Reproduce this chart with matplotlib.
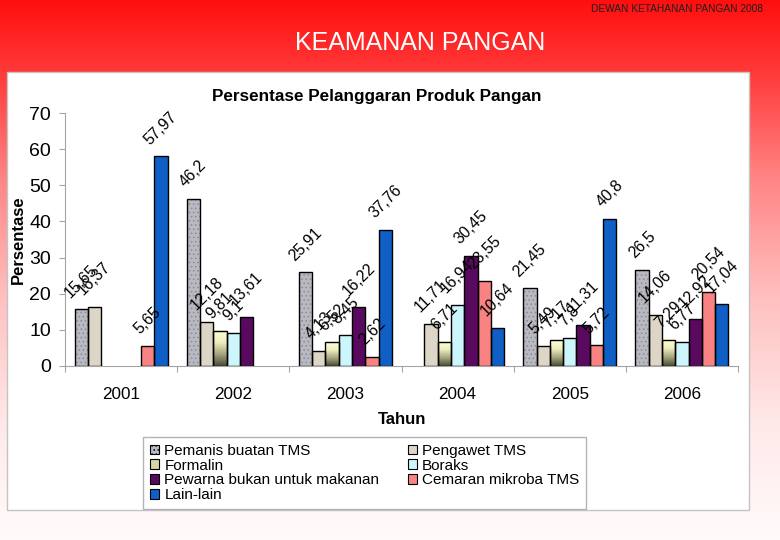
"""
Slide 'KEAMANAN PANGAN': grouped bars of the share of food product violations
per year (2001-2006), each bar carrying its value as a rotated label.
"""

import numpy as np
import matplotlib
matplotlib.use("Agg")
import matplotlib.pyplot as plt
from matplotlib.patches import Rectangle, Patch
from matplotlib.colors import LinearSegmentedColormap

nan = np.nan

years = ["2001", "2002", "2003", "2004", "2005", "2006"]
series = ["Pemanis buatan TMS", "Pengawet TMS", "Formalin", "Boraks",
	"Pewarna bukan untuk makanan", "Cemaran mikroba TMS", "Lain-lain"]

pemanis = [15.65, 46.2, 25.91, nan, 21.45, 26.5]
pengawet = [16.37, 12.18, 4.13, 11.71, 5.49, 14.06]
formalin = [nan, 9.81, 6.52, 6.71, 7.17, 7.29]
boraks = [nan, 9.1, 8.45, 16.94, 7.8, 6.77]
pewarna = [nan, 13.61, 16.22, 30.45, 11.31, 12.92]
cemaran = [5.65, nan, 2.62, 23.55, 5.72, 20.54]
lain_lain = [57.97, nan, 37.76, 10.64, 40.8, 17.04]

values = [pemanis, pengawet, formalin, boraks, pewarna, cemaran, lain_lain]
colors = ["#b9b9c1", "#ddd6c6", "#d6d6a6", "#ccf6fb", "#5a0a5e", "#f98282",
	"#0f5fc6"]

W, H = 780, 540
plt.rcParams["font.family"] = ["Liberation Sans", "DejaVu Sans"]
plt.rcParams["hatch.linewidth"] = 0.6


def fig_box(left, top, right, bottom):
	""" pixel box (top-left origin) -> figure fraction rect """
	return [left / W, 1 - bottom / H, (right - left) / W, (bottom - top) / H]


def draw_background(fig):
	"""
	Red slide gradient, white panel and the slide's own texts.
	Returns the pixel-coordinate overlay axes.
	"""
	bg = fig.add_axes([0, 0, 1, 1], zorder=-10)
	bg.set_xlim(0, W)
	bg.set_ylim(H, 0)
	bg.axis("off")
	cmap = LinearSegmentedColormap.from_list("slide", [
		(0.0, (1.0, 0.06, 0.06)),
		(0.13, (1.0, 0.22, 0.22)),
		(0.33, (1.0, 0.52, 0.52)),
		(0.55, (1.0, 0.75, 0.75)),
		(0.78, (1.0, 0.91, 0.91)),
		(1.0, (1.0, 0.985, 0.985))])
	grad = np.linspace(0, 1, 256).reshape(-1, 1)
	bg.imshow(grad, extent=(0, W, H, 0), cmap=cmap, aspect="auto",
		interpolation="bilinear")
	bg.add_patch(Rectangle((7, 72), 742, 438, facecolor="white",
		edgecolor="#c4c4c4", lw=1.0))
	bg.text(677, 9, "DEWAN KETAHANAN PANGAN 2008", fontsize=7.3,
		color="#1e1e1e", ha="center", va="center")
	bg.text(420, 43, "KEAMANAN PANGAN", fontsize=18, color="white",
		ha="center", va="center")
	bg.text(377, 96, "Persentase Pelanggaran Produk Pangan", fontsize=12.3,
		fontweight="bold", ha="center", va="center")
	bg.text(402, 420, "Tahun", fontsize=12, fontweight="bold",
		ha="center", va="center")
	bg.text(18, 240, "Persentase", fontsize=12, fontweight="bold",
		ha="center", va="center", rotation=90)
	bg.set_xlim(0, W)
	bg.set_ylim(H, 0)
	return bg


def label(v):
	return ("%g" % v).replace(".", ",")


def plot_bars(ax):
	"""
	Grouped bars with the Excel-like fills and rotated value labels
	"""
	group = 0.83
	width = group / len(series)
	x = np.arange(len(years))
	fcmap = LinearSegmentedColormap.from_list("formalin",
		["#4c4c34", "#a6a682", "#eeeebe", "#ffffd8"])
	for j, vals in enumerate(values):
		vals = np.array(vals, dtype=float)
		left = x + (1 - group) / 2 + j * width
		ok = ~np.isnan(vals)
		if j == 0:
			ax.bar(left[ok], vals[ok], width, align="edge", color=colors[j],
				hatch="....", edgecolor="#8a8a94", lw=0, zorder=2)
		elif j == 2:
			for l, v in zip(left[ok], vals[ok]):
				ax.imshow(np.linspace(1, 0, 64).reshape(-1, 1), cmap=fcmap,
					extent=(l, l + width, 0, v), aspect="auto", zorder=2)
		else:
			ax.bar(left[ok], vals[ok], width, align="edge", color=colors[j],
				lw=0, zorder=2)
		ax.bar(left[ok], vals[ok], width, align="edge", facecolor="none",
			edgecolor="black", lw=1.0, zorder=3)
		for l, v in zip(left[ok], vals[ok]):
			ax.annotate(label(v), (l + width / 2, v), xytext=(0, 6.5),
				textcoords="offset points", ha="center", va="bottom",
				rotation=45, fontsize=11.3, zorder=4)


def setup_axes(ax):
	ax.set_xlim(0, len(years))
	ax.set_ylim(0, 70)
	ax.set_yticks(range(0, 71, 10))
	ax.set_xticks(np.arange(len(years)) + 0.5)
	ax.set_xticklabels(years)
	ax.set_xticks(range(len(years) + 1), minor=True)
	for s in ["top", "right"]:
		ax.spines[s].set_visible(False)
	for s in ["left", "bottom"]:
		ax.spines[s].set_color("#a4a4a4")
		ax.spines[s].set_linewidth(0.8)
	ax.tick_params(axis="y", length=4.5, width=0.8, color="#a4a4a4",
		labelsize=14, pad=5.5)
	ax.tick_params(axis="x", which="major", length=0, labelsize=12.3, pad=15)
	ax.tick_params(axis="x", which="minor", length=4, width=0.8,
		color="#a4a4a4")
	ax.patch.set_alpha(0)


def plot_legend(fig, ax):
	"""
	Two column legend read row by row as in the slide
	"""
	handles = []
	for j, name in enumerate(series):
		if j == 0:
			h = Patch(facecolor=colors[j], edgecolor="black", lw=0.8,
				hatch="....", label=name)
		else:
			h = Patch(facecolor=colors[j], edgecolor="black", lw=0.8,
				label=name)
		handles.append(h)
	order = [0, 2, 4, 6, 1, 3, 5]
	leg = ax.legend([handles[i] for i in order], [series[i] for i in order],
		ncol=2, loc="upper left", bbox_to_anchor=(143 / W, 1 - 437 / H),
		bbox_transform=fig.transFigure, fontsize=11, frameon=True,
		fancybox=False, edgecolor="#b4b4b4", framealpha=1,
		handlelength=0.6, handleheight=0.6, handletextpad=0.35,
		labelspacing=0.05, columnspacing=1.85, borderpad=0.45,
		borderaxespad=0)
	leg.get_frame().set_linewidth(1.0)


def main():
	fig = plt.figure(figsize=(W / 100, H / 100), dpi=100)
	draw_background(fig)
	ax = fig.add_axes(fig_box(65, 113, 738, 366))
	plot_bars(ax)
	setup_axes(ax)
	plot_legend(fig, ax)
	fig.savefig("out.png", dpi=100)


if __name__ == "__main__":
	main()
